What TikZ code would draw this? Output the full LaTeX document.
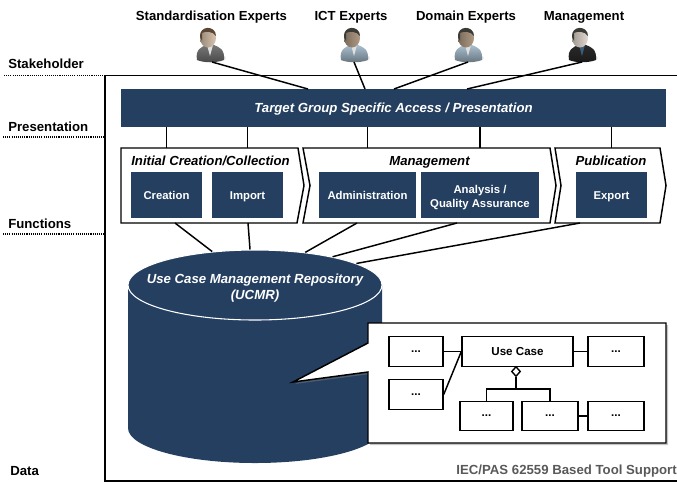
\documentclass[tikz,border=0pt]{standalone}
\usepackage{fontspec}
\usepackage{amssymb}
\setmainfont{Liberation Sans}
\usetikzlibrary{positioning,shapes.geometric,shadows}
\definecolor{navy}{HTML}{243F60}
\definecolor{footgray}{HTML}{595959}
\definecolor{skinlight}{HTML}{D9C4AE}
\definecolor{skindark}{HTML}{B09A84}
\definecolor{skinpale}{HTML}{E3DAD0}
\definecolor{coatgray}{HTML}{777777}
\definecolor{coatblue}{HTML}{A9BFCF}
\definecolor{coatblack}{HTML}{2A2A2A}
\definecolor{hairbrown}{HTML}{5A4632}
\definecolor{hairdark}{HTML}{3A3A36}
\definecolor{shirtpale}{HTML}{E0E0E0}
\definecolor{tieblue}{HTML}{3B5F7A}
\newcommand{\px}{0.75pt}

\begin{document}
\begin{tikzpicture}[
  x=0.75pt, y=-0.75pt,
  every node/.style = {align=center, inner sep=0pt},
  link/.style = {draw, line width=1.1pt},
  layerlabel/.style = {anchor=base west, font=\fontsize{9.9}{11}\selectfont\bfseries},
  layerline/.style = {line width=0.8pt, dash pattern=on 0.8pt off 0.8pt},
  actor/.style = {anchor=base, font=\fontsize{9.85}{11}\selectfont\bfseries},
  phase/.style = {draw, fill=white, line width=1.1pt},
  phasetitle/.style = {anchor=base, font=\fontsize{9.85}{11}\selectfont\bfseries\itshape},
  func/.style = {fill=navy, text=white, outer sep=0pt, minimum height=46*\px, font=\fontsize{8.5}{10.3}\selectfont\bfseries},
  onerow/.style = {text height=8.5pt, text depth=1.5pt},
  umlbox/.style = {draw, fill=white, line width=1.05pt, minimum height=29.5*\px, font=\fontsize{8.7}{10}\selectfont\bfseries},
  pics/personicon/.style n args = {4}{code = {
    \fill[gray!35, opacity=0.5] (7,-3) ellipse (9 and 3);
    \path[top color=#2, bottom color=#2!60!black, draw=none]
      (-13,-1) .. controls (-15,-12) and (-8,-14) .. (-4,-16) -- (4,-16)
      .. controls (9,-14) and (15,-12) .. (14,-1) .. controls (6,2) and (-6,2) .. (-13,-1) -- cycle;
    \fill[#4] (-3,-16) -- (3,-16) -- (0,-5) -- cycle;
    \path[left color=#1!70!black, right color=#1] (-2,-23) ellipse (8 and 9.5);
    \fill[#3] (-10,-24) .. controls (-11,-36) and (6,-36) .. (6,-25)
      .. controls (3,-30) and (-5,-30) .. (-8,-28) -- (-8,-20) -- cycle;
  }}
]
  \useasboundingbox (0,0) rectangle (677,483);

  \draw[line width=1.1pt] (677,75.5) -- (105,75.5) -- (105,481) -- (677,481);
  \draw[layerline] (4,75.5) -- (105,75.5);
  \draw[layerline] (3,137) -- (105,137);
  \draw[layerline] (3,234) -- (105,234);

  \node[layerlabel] (lstake) at (8,68) {Stakeholder};
  \node[layerlabel] (lpres) at (8,131) {Presentation};
  \node[layerlabel] (lfunc) at (8,228) {Functions};
  \node[layerlabel] (ldata) at (10,475) {Data};

  \node[actor] (astd) at (211.5,20) {Standardisation Experts};
  \node[actor] (aict) at (351,20) {ICT Experts};
  \node[actor] (adom) at (466,20) {Domain Experts};
  \node[actor] (amgt) at (584,20) {Management};

  \pic at (210,61) {personicon={skinlight}{coatgray}{hairbrown}{shirtpale}};
  \pic at (354,61) {personicon={skindark}{coatblue}{hairdark}{shirtpale}};
  \pic at (468,61) {personicon={skindark}{coatblue}{hairdark}{shirtpale}};
  \pic at (582,61) {personicon={skinpale}{coatblack}{hairdark}{tieblue}};

  \node[fill=navy, text=white, minimum width=545*\px, minimum height=38*\px, text height=8.5pt, text depth=2.5pt,
    font=\fontsize{9.9}{11}\selectfont\bfseries\itshape] (band) at (393.5,108)
    {Target Group Specific Access / Presentation};

  \coordinate (pstd) at (212,62);
  \coordinate (pict) at (354,62);
  \coordinate (pdom) at (468,62);
  \coordinate (pmgt) at (582,62);
  \coordinate (bstd) at (308,89);
  \coordinate (bict) at (365,89);
  \coordinate (bdom) at (394,89);
  \coordinate (bmgt) at (467,89);
  \draw[link] (pstd) -- (bstd);
  \draw[link] (pict) -- (bict);
  \draw[link] (pdom) -- (bdom);
  \draw[link] (pmgt) -- (bmgt);

  \draw[phase] (121,148) -- (298,148) -- (304,185.5) -- (297,223) -- (121,223) -- cycle;
  \draw[phase] (303,148) -- (550,148) -- (556,185.5) -- (550,223) -- (303,223) -- (310,185.5) -- cycle;
  \draw[phase] (555,148) -- (660,148) -- (666,185.5) -- (660,223) -- (555,223) -- (561,185.5) -- cycle;

  \node[phasetitle] (tinit) at (210.5,165) {Initial Creation/Collection};
  \node[phasetitle] (tmgt) at (429.5,165) {Management};
  \node[phasetitle] (tpub) at (611,165) {Publication};

  \node[func, onerow, minimum width=71*\px] (creation) at (166.5,195) {Creation};
  \node[func, onerow, minimum width=71*\px, right=10*\px of creation] (import) {Import};
  \node[func, onerow, minimum width=97*\px] (admin) at (367.5,195) {Administration};
  \node[func, minimum width=118*\px, text height=20.5pt, right=5*\px of admin] (analysis) {Analysis /\\Quality Assurance};
  \node[func, onerow, minimum width=71*\px] (export) at (611.5,195) {Export};

  \coordinate (phasetop) at (0,148);
  \foreach \task in {creation,import,admin,analysis,export}
    \draw[link] (\task |- band.south) -- (\task |- phasetop);

  \fill[navy] (128,285) -- (128,428) arc[start angle=180, end angle=0, x radius=127, y radius=35]
    -- (382,285) -- cycle;
  \node[ellipse, draw=white, line width=0.8pt, fill=navy, minimum width=254*\px, minimum height=70*\px] (repo) at (255,285) {};
  \node[text=white, font=\fontsize{9.9}{12}\selectfont\bfseries\itshape] (repotext) at (255,288)
    {Use Case Management Repository\\(UCMR)};
  \coordinate (cinit) at (175,223);
  \coordinate (cimp) at (248,223);
  \coordinate (cadm) at (357,223);
  \coordinate (cana) at (457,223);
  \coordinate (cpub) at (580,223);
  \draw[link] (cinit) -- (repo.142);
  \draw[link] (cimp) -- (repo.98);
  \draw[link] (cadm) -- (repo.33);
  \draw[link] (cana) -- (repo.20);
  \draw[link] (cpub) -- (repo.12);

  \draw[fill=white, line width=1.1pt, drop shadow={shadow xshift=1.5pt, shadow yshift=-1.5pt, opacity=0.45}]
    (368,323) -- (666,323) -- (666,443) -- (368,443) -- (368,372) -- (293,382) -- (368,343) -- cycle;

  \node[umlbox, minimum width=54*\px] (attra) at (416,351.5) {...};
  \node[umlbox, minimum width=54*\px] (attrb) at (416,394.5) {...};
  \node[umlbox, minimum width=111*\px] (usecase) at (517.5,351.5) {Use Case};
  \node[umlbox, minimum width=56*\px] (attrc) at (616,351.5) {...};
  \node[umlbox, minimum width=53*\px] (partd) at (486.5,416) {...};
  \node[umlbox, minimum width=56*\px] (parte) at (550,416) {...};
  \node[umlbox, minimum width=56*\px] (partf) at (616,416) {...};
  \node[diamond, draw, fill=white, line width=1.05pt, minimum width=9*\px, minimum height=10*\px] (aggr) at (516,371.5) {};

  \coordinate (fork) at (516,389);
  \draw[link] (attra.east) -- (usecase.west);
  \draw[link] (attrb.east) -- (usecase.west);
  \draw[link] (usecase.east) -- (attrc.west);
  \draw[link] (parte.east) -- (partf.west);
  \draw[link] (aggr.south) -- (fork);
  \draw[link] (partd.north) |- (fork) -| (parte.north);

  \node[anchor=base east, text=footgray, font=\fontsize{9.9}{11}\selectfont\bfseries] (support) at (677,474)
    {IEC/PAS 62559 Based Tool Support};
\end{tikzpicture}
\end{document}
